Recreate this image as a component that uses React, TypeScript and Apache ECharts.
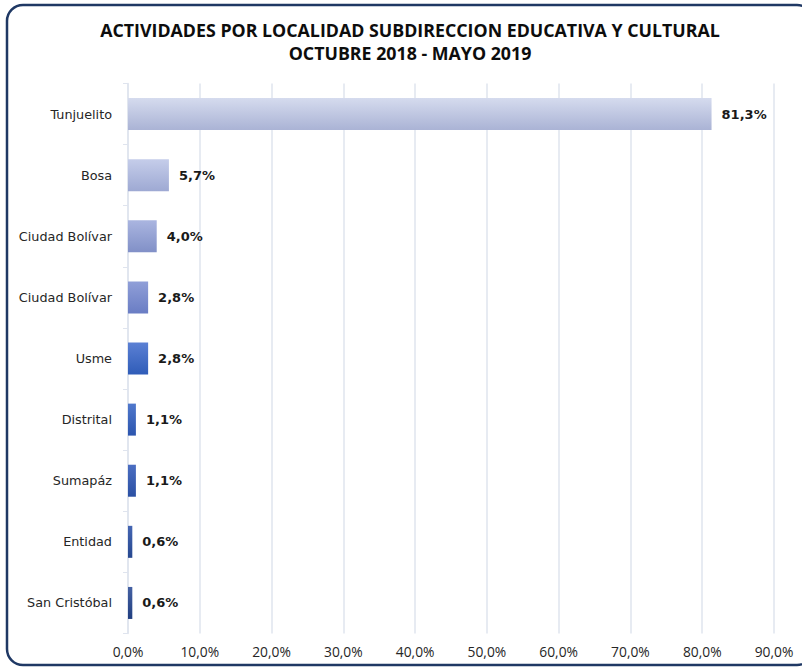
import React, { useEffect, useRef } from "react";
import * as echarts from "echarts";

const categories = [
  "Tunjuelito",
  "Bosa",
  "Ciudad Bolívar",
  "Ciudad Bolívar",
  "Usme",
  "Distrital",
  "Sumapáz",
  "Entidad",
  "San Cristóbal",
];
const values = [81.3, 5.7, 4.0, 2.8, 2.8, 1.1, 1.1, 0.6, 0.6];
const xTicks = [0, 10, 20, 30, 40, 50, 60, 70, 80, 90];
const titleLines = [
  "ACTIVIDADES POR LOCALIDAD SUBDIRECCION EDUCATIVA Y CULTURAL",
  "OCTUBRE 2018 - MAYO 2019",
];

const barTop = ["#d5dbee", "#c5cdea", "#aab5e0", "#909fd8", "#5b80d4", "#5078cc", "#4b6ec2", "#4566b3", "#4561a3"];
const barBottom = ["#aab3d5", "#9ea9d3", "#8190c7", "#6a7dc4", "#2f5cb8", "#2c55ae", "#2b50a3", "#26478f", "#203e80"];

const fmt = (v: number) => v.toFixed(1).replace(".", ",") + "%";

export default function App() {
  const ref = useRef<HTMLDivElement>(null);
  useEffect(() => {
    document.body.style.margin = "0";
    if (!ref.current) return;
    const chart = echarts.init(ref.current, undefined, { renderer: "svg" });
    chart.setOption({
      animation: false,
      backgroundColor: "#ffffff",
      graphic: [
        {
          type: "rect",
          shape: { x: 7, y: 5, width: 806, height: 660, r: 16 },
          style: { fill: "none", stroke: "#1f3864", lineWidth: 2.5 },
          z: 10,
        },
        {
          type: "text",
          x: 410,
          y: 30,
          style: {
            text: titleLines[0],
            textAlign: "center",
            textVerticalAlign: "middle",
            font: "bold 17.8px 'Open Sans'",
            fill: "#0d0d0d",
          },
        },
        {
          type: "text",
          x: 410,
          y: 53,
          style: {
            text: titleLines[1],
            textAlign: "center",
            textVerticalAlign: "middle",
            font: "bold 17.8px 'Open Sans'",
            fill: "#0d0d0d",
          },
        },
      ],
      grid: { left: 128, right: 28, top: 83.5, bottom: 33.5, containLabel: false },
      xAxis: {
        type: "value",
        min: xTicks[0],
        max: xTicks[xTicks.length - 1],
        interval: 10,
        axisLine: { show: false },
        axisTick: { show: false },
        splitLine: { show: true, lineStyle: { color: "#dfe4ee", width: 1.5 } },
        axisLabel: {
          formatter: (v: number) => fmt(v),
          fontFamily: "'Open Sans'",
          fontSize: 13.8,
          color: "#262626",
          margin: 11,
        },
      },
      yAxis: {
        type: "category",
        inverse: true,
        data: categories,
        axisLine: { show: true, lineStyle: { color: "#dfe4ee", width: 1.5 } },
        axisTick: { show: true, length: 5, lineStyle: { color: "#dfe4ee" } },
        axisLabel: {
          fontFamily: "'DejaVu Sans'",
          fontSize: 12.8,
          color: "#262626",
          margin: 16,
        },
      },
      series: [
        {
          type: "bar",
          barWidth: 32,
          data: values.map((v, i) => ({
            value: v,
            itemStyle: {
              color: new echarts.graphic.LinearGradient(0, 0, 0, 1, [
                { offset: 0, color: barTop[i] },
                { offset: 1, color: barBottom[i] },
              ]),
            },
          })),
          label: {
            show: true,
            position: "right",
            distance: 10,
            formatter: (p: any) => fmt(p.value),
            fontFamily: "'DejaVu Sans'",
            fontWeight: "bold",
            fontSize: 13,
            color: "#1a1a1a",
          },
        },
      ],
    });
    return () => chart.dispose();
  }, []);
  return <div ref={ref} style={{ width: 802, height: 667 }} />;
}
